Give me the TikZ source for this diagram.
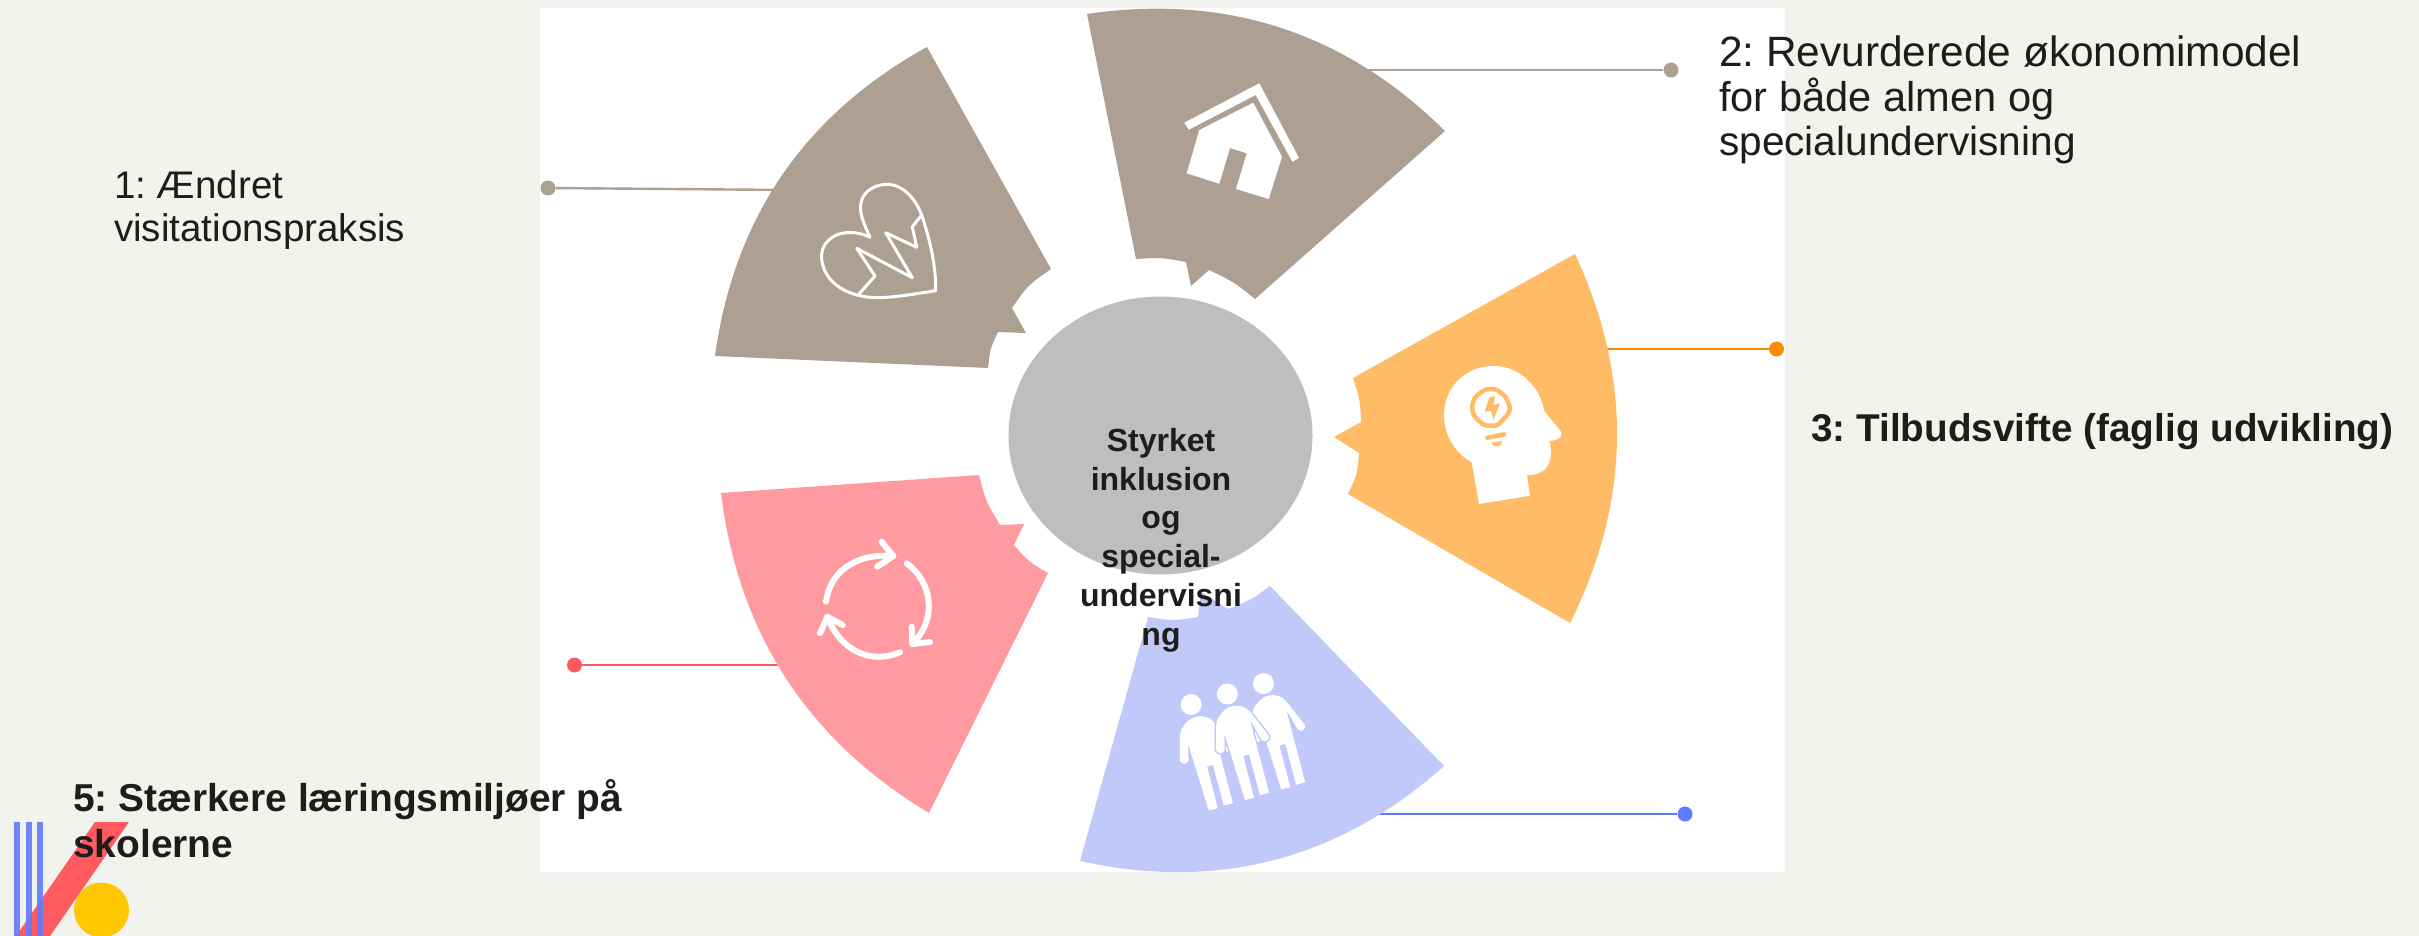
\documentclass[tikz,border=0pt]{standalone}
\usepackage{fontspec}
\setmainfont{Liberation Sans}
\frenchspacing
\usetikzlibrary{shapes.geometric}
\definecolor{bgc}{HTML}{F2F3EE}
\definecolor{taupe}{HTML}{AE9F93}
\definecolor{orangew}{HTML}{FFBB66}
\definecolor{orangel}{HTML}{FF8C00}
\definecolor{bluew}{HTML}{C0C9FA}
\definecolor{bluel}{HTML}{5F7BFF}
\definecolor{pinkw}{HTML}{FF9BA0}
\definecolor{redl}{HTML}{FF5A5F}
\definecolor{hubc}{HTML}{BEBEBE}
\definecolor{inkc}{HTML}{1D1D1B}
\definecolor{yellowc}{HTML}{FFC800}
\newcommand\personbody{%
  \fill[white] (1216,726.7) -- (1216,748.3) .. controls (1216,755) and (1224.7,755) .. (1224.7,748.3)
   -- (1224.3,733.3) -- (1245,800) -- (1254,797.7) -- (1243.3,756) -- (1249,754.3) -- (1260,795.3) -- (1269,792.7)
   -- (1250,720) -- (1261.7,740) .. controls (1265,744) and (1271,739) .. (1268.3,735) -- (1250,711.7)
   .. controls (1246,706) and (1238,705) .. (1233,706) .. controls (1226,707) and (1216,716) .. (1216,726.7) -- cycle;
  \fill[white] (1227.3,694) circle (10.5);
}
\tikzset{
  wedge/.style={draw=none},
  leader/.style={line width=2.4pt},
  dotn/.style={circle,inner sep=0pt,minimum size=15pt,draw=none},
  plain/.style={inkc,anchor=west,align=left,inner sep=0pt,font=\fontsize{38.5}{43}\selectfont},
  strong/.style={inkc,anchor=west,align=left,inner sep=0pt,font=\fontsize{38.7}{46}\selectfont\bfseries},
  iconline/.style={draw=white,line width=6pt,line cap=round,line join=round},
}
\begin{document}
\begin{tikzpicture}[x=1pt,y=-1pt]
\useasboundingbox (0,0) rectangle (2419,936);
\fill[bgc] (0,0) rectangle (2419,936);
\fill[white] (540,8) rectangle (1785,872);
% logo
\fill[redl] (95,822) -- (129,822) -- (50,936) -- (16,936) -- cycle;
\begin{scope}
\clip (0,0) rectangle (2419,936);
\fill[yellowc] (101.5,910) ellipse (27.5 and 27.5);
\end{scope}
\fill[bluel,opacity=.9] (14,822) rectangle (20,936);
\fill[bluel,opacity=.9] (25.7,822) rectangle (31.5,936);
\fill[bluel,opacity=.9] (37,822) rectangle (42.7,936);
% leaders
\node[dotn,fill=taupe] (d1) at (548,188) {};
\node[dotn,fill=taupe] (d2) at (1671,70) {};
\node[dotn,fill=orangel] (d3) at (1776.5,349) {};
\node[dotn,fill=bluel] (d4) at (1685,814) {};
\node[dotn,fill=redl] (d5) at (574.5,665) {};
\coordinate (s1) at (790,190);
\coordinate (s2) at (1350,70);
\coordinate (s3) at (1590,349);
\coordinate (s4) at (1360,814);
\coordinate (s5) at (800,665);
\draw[leader,taupe] (d1) -- (s1);
\draw[leader,taupe] (d2) -- (s2);
\draw[leader,orangel] (d3) -- (s3);
\draw[leader,bluel] (d4) -- (s4);
\draw[leader,redl] (d5) -- (s5);
% wedges
\fill[taupe,wedge] (715,356) .. controls (734,217.6) and (804.6,114.6) .. (927,47) -- (1051,269)
  .. controls (1028,285) .. (1012,308) -- (1026,333) -- (998,332) .. controls (990,349) .. (988,368) -- cycle;
\fill[taupe,wedge] (1087,14) .. controls (1225.8,-6.6) and (1345.2,32.4) .. (1445,131) -- (1255,299)
  .. controls (1234,282) .. (1209,270) -- (1191,286) -- (1186,262) .. controls (1161,257.5) .. (1136,259) -- cycle;
\fill[orangew,wedge] (1575,254) .. controls (1632.6,377.8) and (1631,500.8) .. (1570,623) -- (1348,494)
  .. controls (1357,475) .. (1359,453) -- (1334,437) -- (1361,422) .. controls (1360,400) .. (1353,378) -- cycle;
\fill[bluew,wedge] (1080,861) .. controls (1217.5,891.3) and (1338.9,859.7) .. (1444,766) -- (1270,586)
  .. controls (1251,600) .. (1228,609) -- (1201,592) -- (1198,617) .. controls (1173,621) .. (1148,617) -- cycle;
\fill[pinkw,wedge] (721,493) .. controls (738.3,633.5) and (807.7,740.1) .. (929,813) -- (1048,573)
  .. controls (1029,562) .. (1014,545) -- (1024,524) -- (1000,525) .. controls (986,502) .. (979,475) -- cycle;
% heart icon
\draw[white,line width=3pt,line join=round] (870,237.3) .. controls (863,222) and (859,212) .. (861,203)
  .. controls (863,190) and (877,184) .. (888.3,184.3) .. controls (903,185) and (915,198) .. (921.7,215)
  .. controls (930,240) and (936,265) .. (935.7,290.7) .. controls (915,294) and (897,297) .. (880,297.7)
  .. controls (862,298) and (842,293) .. (830,279) .. controls (821,268) and (817,250) .. (829,240)
  .. controls (838,231) and (855,230) .. (870,237.3) -- cycle;
\draw[white,line width=3pt,line join=round] (921.7,215) -- (912.3,226.7) -- (916.7,247.3) -- (885.7,232.7)
  -- (912.3,277.7) -- (856.7,248.3) -- (875,276) -- (859,294);
% house icon
\fill[white] (1184.3,122.7) -- (1259.3,83.3) -- (1299,158) -- (1292.3,161.7) -- (1255.7,95) -- (1188.7,129.7) -- cycle;
\fill[white] (1199.3,130) -- (1253.3,102.7) -- (1282,156.7) -- (1268.7,199) -- (1236,189) -- (1246.7,153.3)
  -- (1230,148) -- (1219.3,183.7) -- (1186.7,173.3) -- cycle;
% head icon
\fill[white] (1479,504) -- (1530,495.7) -- (1527,475.3) .. controls (1538,475) and (1546,471) .. (1549,463)
  .. controls (1552,456) and (1551,448) .. (1549.3,440.7) .. controls (1555,441) and (1563,439) .. (1561,431.7)
  -- (1544,410.7) .. controls (1541,390) and (1522,366) .. (1493.3,366) .. controls (1465,366) and (1444,388) .. (1444,415)
  .. controls (1444,435) and (1455,453) .. (1471.7,462.3) -- cycle;
\draw[orangew,line width=4.5pt,line join=round,rounded corners=3pt] (1484.3,425.7) -- (1497.3,425.7) -- (1508.3,414) -- (1510.3,407.7)
  -- (1505.7,396.7) -- (1496,389) -- (1485.7,389) -- (1475,396.7) -- (1471.7,406.7) -- (1473.7,416) -- cycle;
\fill[orangew] (1489.3,397.7) -- (1484.7,411.7) -- (1491,411) -- (1493.3,420) -- (1500,403.3) -- (1493.3,405) -- (1495,396) -- cycle;
\draw[orangew,line width=4.5pt,line cap=round] (1487.3,437.7) -- (1504,434.3);
\fill[orangew] (1491.7,442.7) -- (1502,441) .. controls (1502,447) and (1494,449) .. (1491.7,442.7) -- cycle;
% cycle icon
\draw[iconline] (826,601.7) .. controls (830,572) and (855,553) .. (893.3,556);
\draw[iconline] (881.7,541.7) -- (893.3,556) -- (877.3,566.7);
\draw[iconline] (906.7,563.3) .. controls (932,582) and (938,618) .. (912.3,644);
\draw[iconline] (911.7,626.7) -- (912.3,644) -- (930,642);
\draw[iconline] (900,652.3) .. controls (870,665) and (840,650) .. (827.3,616.7);
\draw[iconline] (820,633.3) -- (827.3,616.7) -- (842.7,625);
% people icon
\begin{scope}[shift={(-36.2,10.5)}]\personbody\end{scope}
\begin{scope}[shift={(36.2,-10.5)}]\personbody\end{scope}
\draw[bluew,line width=3pt,line join=round] (1216,726.7) -- (1216,748.3) .. controls (1216,755) and (1224.7,755) .. (1224.7,748.3)
   -- (1224.3,733.3) -- (1245,800) -- (1254,797.7) -- (1243.3,756) -- (1249,754.3) -- (1260,795.3) -- (1269,792.7)
   -- (1250,720) -- (1261.7,740) .. controls (1265,744) and (1271,739) .. (1268.3,735) -- (1250,711.7)
   .. controls (1246,706) and (1238,705) .. (1233,706) .. controls (1226,707) and (1216,716) .. (1216,726.7) -- cycle;
\personbody
% hub
\node[ellipse,fill=hubc,draw=none,minimum width=304pt,minimum height=278pt,inner sep=0pt] (hub) at (1160.5,435.5) {};
\node[inkc,align=center,inner sep=0pt,font=\fontsize{32}{38.8}\selectfont\bfseries] (hubtxt) at (1161,540)
  {Styrket\\inklusion\\og\\special-\\undervisni\\ng};
% labels
\node[plain] (t1) at (114,210) {1: Ændret\\visitationspraksis};
\node[plain,font=\fontsize{41.6}{44.7}\selectfont] (t2) at (1719,100) {\fontsize{42.4}{44.7}\selectfont 2: Revurderede økonomimodel\\for både almen og\\\fontsize{40.6}{44.7}\selectfont specialundervisning};
\node[strong] (t3) at (1811,432) {3: Tilbudsvifte (faglig udvikling)};
\node[strong,font=\fontsize{38.9}{46.5}\selectfont\bfseries] (t5) at (73,818.5) {5: Stærkere læringsmiljøer på\\skolerne};
\end{tikzpicture}
\end{document}
